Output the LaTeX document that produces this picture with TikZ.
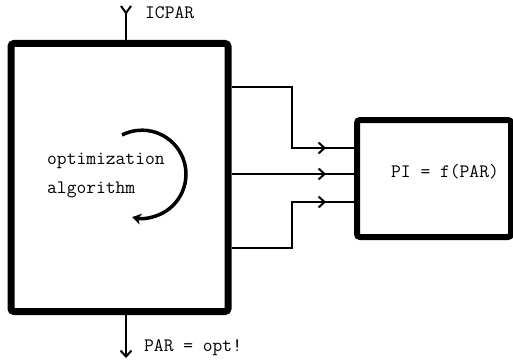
\documentclass[tikz,border=0pt]{standalone}
\usepackage{tikz}
\usetikzlibrary{arrows.meta,positioning,calc}
\tikzset{
  >={Straight Barb[length=6pt,width=11pt]},
  block/.style={rectangle,draw,line width=7pt,rounded corners=3pt,
                inner sep=0pt},
  lbl/.style={font=\fontsize{19}{29}\selectfont\ttfamily,inner sep=0pt},
  arr/.style={->,line width=2pt},
  wire/.style={line width=2pt},
}
\begin{document}
\begin{tikzpicture}[x=1pt,y=1pt]
    \useasboundingbox (0,0) rectangle (513,362);

    % Blocks
    \node[block,minimum width=217pt,minimum height=268pt] (opt) at (119.5,184.5) {};
    \node[block,line width=6pt,minimum width=154pt,minimum height=117pt]
          (pi) at (434,183.5) {};

    % Texts
    \node[lbl,align=left,anchor=west] (algo) at (47,186.5)
          {optimization\\algorithm};
    \node[lbl] (pitxt) at (445,190) {PI = f(PAR)};
    \coordinate (icin) at (126,357);
    \node[lbl,anchor=west] (icpar) at (145,349) {ICPAR};
    \coordinate (parout) at (126,4);
    \node[lbl,anchor=west] (parlbl) at (144,14) {PAR = opt!};

    % Loop arrow
    \draw[line width=3.5pt,-{Stealth[length=9pt,width=11pt]}]
          (122,227) arc[start angle=117,end angle=-103,radius=44] coordinate (loopend);

    % In and out
    \draw[wire,{Straight Barb[reversed,length=7pt,width=10pt]}-] (icin) -- (icin |- opt.north);
    \draw[arr] (opt.south -| parout) -- (parout);

    % Connectors
    \foreach \a/\b in {275/214,188/188,114/160}{
      \draw[wire] (opt.east |- 0,\a) -| (292,\b) -- (pi.west |- 0,\b);
      \draw[arr] (300,\b) -- (326,\b);
    }
\end{tikzpicture}
\end{document}
